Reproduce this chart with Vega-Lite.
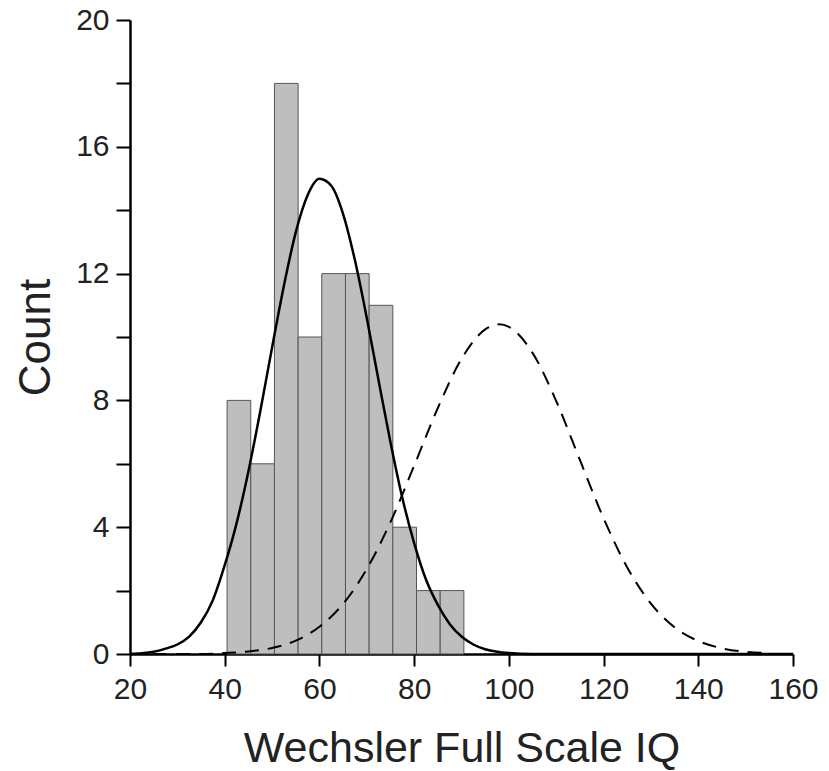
{
  "$schema": "https://vega.github.io/schema/vega-lite/v6.json",
  "width": 663,
  "height": 634,
  "autosize": {"type": "none"},
  "padding": {"left": 130, "top": 20, "right": 36, "bottom": 117},
  "background": "white",
  "config": {
    "view": {"stroke": null},
    "font": "Liberation Sans",
    "axis": {
      "domainColor": "black",
      "domainWidth": 2.5,
      "tickColor": "black",
      "tickWidth": 2,
      "grid": false,
      "labelFlush": false,
      "labelOverlap": false,
      "labelFont": "Liberation Sans",
      "labelColor": "#222",
      "titleFont": "Liberation Sans",
      "titleColor": "#222",
      "titleFontWeight": "normal"
    }
  },
  "datasets": {
    "bins": [
      {"lo": 40.5, "hi": 45.5, "count": 8},
      {"lo": 45.5, "hi": 50.5, "count": 6},
      {"lo": 50.5, "hi": 55.5, "count": 18},
      {"lo": 55.5, "hi": 60.5, "count": 10},
      {"lo": 60.5, "hi": 65.5, "count": 12},
      {"lo": 65.5, "hi": 70.5, "count": 12},
      {"lo": 70.5, "hi": 75.5, "count": 11},
      {"lo": 75.5, "hi": 80.5, "count": 4},
      {"lo": 80.5, "hi": 85.5, "count": 2},
      {"lo": 85.5, "hi": 90.5, "count": 2}
    ],
    "observed": [
      {"iq": 20, "n": 0.0},
      {"iq": 22.5, "n": 0.02},
      {"iq": 25, "n": 0.07},
      {"iq": 27.5, "n": 0.17},
      {"iq": 30, "n": 0.3},
      {"iq": 32.5, "n": 0.55},
      {"iq": 35, "n": 1.0},
      {"iq": 37.5, "n": 1.7},
      {"iq": 40, "n": 2.8},
      {"iq": 42.5, "n": 4.12},
      {"iq": 45, "n": 5.76},
      {"iq": 47.5, "n": 7.65},
      {"iq": 50, "n": 9.67},
      {"iq": 52.5, "n": 11.62},
      {"iq": 55, "n": 13.3},
      {"iq": 57.5, "n": 14.47},
      {"iq": 60, "n": 14.99},
      {"iq": 62.5, "n": 14.77},
      {"iq": 65, "n": 13.88},
      {"iq": 67.5, "n": 12.42},
      {"iq": 70, "n": 10.6},
      {"iq": 72.5, "n": 8.62},
      {"iq": 75, "n": 6.68},
      {"iq": 77.5, "n": 4.93},
      {"iq": 80, "n": 3.5},
      {"iq": 82.5, "n": 2.35},
      {"iq": 85, "n": 1.55},
      {"iq": 87.5, "n": 0.95},
      {"iq": 90, "n": 0.55},
      {"iq": 92.5, "n": 0.3},
      {"iq": 95, "n": 0.15},
      {"iq": 97.5, "n": 0.07},
      {"iq": 100, "n": 0.03},
      {"iq": 105, "n": 0.0},
      {"iq": 160, "n": 0.0}
    ],
    "norm": [
      {"iq": 20, "n": 0.0},
      {"iq": 35, "n": 0.0},
      {"iq": 40, "n": 0.03},
      {"iq": 45, "n": 0.08},
      {"iq": 50, "n": 0.19},
      {"iq": 55, "n": 0.42},
      {"iq": 60, "n": 0.86},
      {"iq": 65, "n": 1.58},
      {"iq": 70, "n": 2.68},
      {"iq": 75, "n": 4.16},
      {"iq": 80, "n": 5.94},
      {"iq": 85, "n": 7.76},
      {"iq": 90, "n": 9.31},
      {"iq": 95, "n": 10.24},
      {"iq": 98, "n": 10.4},
      {"iq": 100, "n": 10.32},
      {"iq": 105, "n": 9.5},
      {"iq": 110, "n": 7.98},
      {"iq": 115, "n": 6.12},
      {"iq": 120, "n": 4.28},
      {"iq": 125, "n": 2.73},
      {"iq": 130, "n": 1.59},
      {"iq": 135, "n": 0.84},
      {"iq": 140, "n": 0.41},
      {"iq": 145, "n": 0.18},
      {"iq": 150, "n": 0.07},
      {"iq": 155, "n": 0.03}
    ]
  },
  "layer": [
    {
      "data": {"name": "bins"},
      "mark": {"type": "rect", "fill": "#bebebe", "stroke": "#555555", "strokeWidth": 1},
      "encoding": {
        "x": {
          "field": "lo", "type": "quantitative",
          "scale": {"domain": [20, 160], "nice": false, "zero": false},
          "axis": {
            "title": "Wechsler Full Scale IQ",
            "values": [20, 40, 60, 80, 100, 120, 140, 160],
            "tickSize": 12,
            "labelFontSize": 30,
            "labelPadding": 8,
            "titleFontSize": 43,
            "titlePadding": 23
          }
        },
        "x2": {"field": "hi"},
        "y": {
          "field": "count", "type": "quantitative",
          "scale": {"domain": [0, 20], "nice": false},
          "axis": {
            "title": "Count",
            "values": [0, 2, 4, 6, 8, 10, 12, 14, 16, 18, 20],
            "labelExpr": "datum.value % 4 == 0 ? datum.label : ''",
            "tickSize": 14,
            "labelPadding": 7,
            "labelFontSize": 30,
            "titleFontSize": 44,
            "titlePadding": 17
          }
        },
        "y2": {"datum": 0}
      }
    },
    {
      "data": {"name": "observed"},
      "mark": {"type": "line", "color": "black", "strokeWidth": 2.5, "interpolate": "monotone"},
      "encoding": {
        "x": {"field": "iq", "type": "quantitative", "title": "Wechsler Full Scale IQ"},
        "y": {"field": "n", "type": "quantitative", "title": "Count"}
      }
    },
    {
      "data": {"name": "norm"},
      "mark": {"type": "line", "color": "black", "strokeWidth": 2, "strokeDash": [14, 9], "interpolate": "monotone"},
      "encoding": {
        "x": {"field": "iq", "type": "quantitative", "title": "Wechsler Full Scale IQ"},
        "y": {"field": "n", "type": "quantitative", "title": "Count"}
      }
    }
  ]
}
